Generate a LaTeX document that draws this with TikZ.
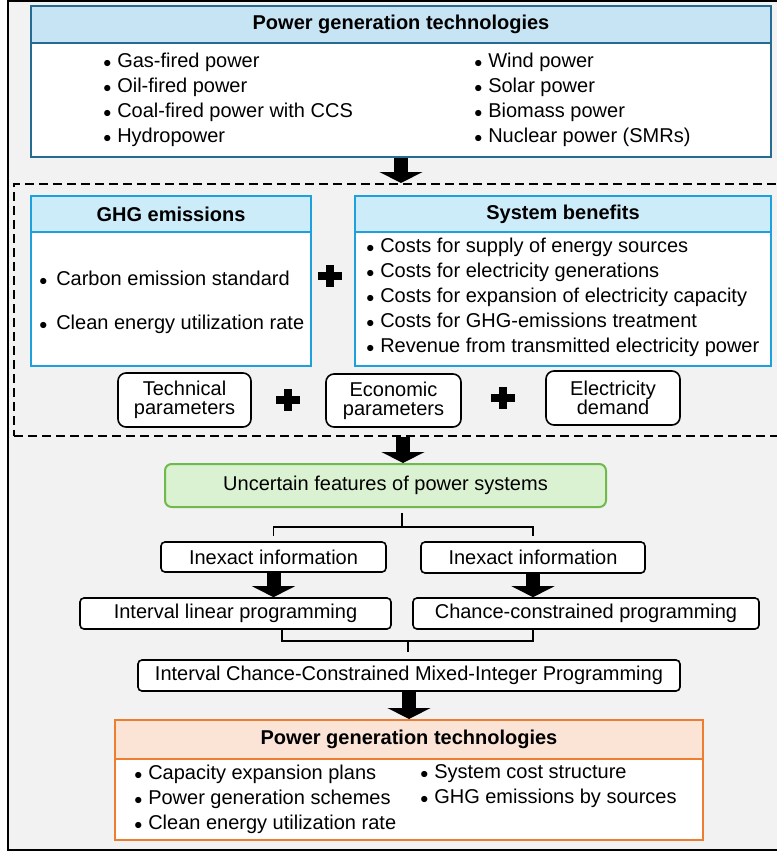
\documentclass[tikz,border=0pt]{standalone}
\usepackage{fontspec}
\setmainfont{Liberation Sans}
\usetikzlibrary{arrows.meta}
\definecolor{bgray}{RGB}{242,242,242}
\definecolor{tblue}{RGB}{38,108,146}
\definecolor{tfill}{RGB}{198,228,243}
\definecolor{gblue}{RGB}{30,160,222}
\definecolor{gfill}{RGB}{204,236,250}
\definecolor{ugreen}{RGB}{112,186,76}
\definecolor{ufill}{RGB}{218,241,210}
\definecolor{rorange}{RGB}{237,125,49}
\definecolor{rfill}{RGB}{251,227,214}
\newcommand\bl{\makebox[10.5pt][l]{\fontsize{12}{12}\selectfont$\bullet$}}
\newcommand\gbl{\makebox[12.75pt][l]{\fontsize{12}{12}\selectfont$\bullet$}}
\tikzset{plussign/.pic={\fill (-12,-4) rectangle (12,4); \fill (-4,-11) rectangle (4,11);}}

\begin{document}
\begin{tikzpicture}[x=0.75pt, y=-0.75pt, font=\fontsize{15}{18.75}\selectfont,
  thead/.style={draw=tblue, fill=tfill, line width=1.5pt, inner sep=0pt},
  tbody/.style={draw=tblue, fill=white, line width=1.5pt, inner sep=0pt},
  ghead/.style={draw=gblue, fill=gfill, line width=1.5pt, inner sep=0pt},
  gbody/.style={draw=gblue, fill=white, line width=1.5pt, inner sep=0pt},
  rhead/.style={draw=rorange, fill=rfill, line width=1.5pt, inner sep=0pt},
  rbody/.style={draw=rorange, fill=white, line width=1.5pt, inner sep=0pt},
  grpbox/.style={draw, line width=1.5pt, dash pattern=on 6.75pt off 3.75pt, inner sep=0pt},
  pbox/.style={draw, fill=white, line width=1.2pt, rounded corners=6pt, align=center, inner sep=0pt, font=\fontsize{15}{14.25}\selectfont},
  ibox/.style={draw, fill=white, line width=1.2pt, rounded corners=3pt, inner sep=0pt},
  ubox/.style={draw=ugreen, fill=ufill, line width=1.5pt, rounded corners=5pt, inner sep=0pt},
  lst/.style={align=left, inner sep=0pt},
  blk/.style={line width=10.5pt, -{Triangle[width=32pt, length=8.25pt]}},
  brk/.style={line width=1.1pt}]
\useasboundingbox (0,0) rectangle (777,853);
\draw[fill=bgray, line width=1.5pt] (8,1) rectangle (790,850);

\node[thead, minimum width=555pt, minimum height=27.75pt] (tHead) at (401,24.5) {\textbf{Power generation technologies}};
\node[tbody, minimum width=555pt, minimum height=85.5pt] (tBody) at (401,100) {};
\node[lst, anchor=west] (tL) at (103,99.5) {\bl Gas-fired power\\ \bl Oil-fired power\\ \bl Coal-fired power with CCS\\ \bl Hydropower};
\node[lst, anchor=west] (tR) at (474,99.5) {\bl Wind power\\ \bl Solar power\\ \bl Biomass power\\ \bl Nuclear power (SMRs)};

\node[grpbox, minimum width=574.5pt, minimum height=189pt] (grp) at (397,310) {};
\draw[blk] (tBody.south) -- (tBody.south |- grp.north);

\node[ghead, minimum width=210pt, minimum height=27pt] (gHead) at (171,214) {\textbf{GHG emissions}};
\node[gbody, minimum width=210pt, minimum height=100.5pt] (gBody) at (171,299) {};
\node[lst, anchor=west] (gL) at (39,302) {\gbl Carbon emission standard\\[14.25pt] \gbl Clean energy utilization rate};
\pic at (330,276) {plussign};
\node[ghead, minimum width=312pt, minimum height=27pt] (sHead) at (563,214) {\textbf{System benefits}};
\node[gbody, minimum width=312pt, minimum height=100.5pt] (sBody) at (563,299) {};
\node[lst, anchor=west] (sL) at (366,297) {\bl Costs for supply of energy sources\\ \bl Costs for electricity generations\\ \bl Costs for expansion of electricity capacity\\ \bl Costs for GHG-emissions treatment\\ \bl Revenue from transmitted electricity power};

\node[pbox, minimum width=99.75pt, minimum height=40.5pt] (tech) at (184.5,400) {Technical\\parameters};
\pic at (288,400) {plussign};
\node[pbox, minimum width=101.25pt, minimum height=39.75pt] (econ) at (393.5,400.5) {Economic\\parameters};
\pic at (503,398) {plussign};
\node[pbox, minimum width=100.5pt, minimum height=40.5pt] (elec) at (613,398) {Electricity\\demand};

\node[ubox, minimum width=330.75pt, minimum height=32.25pt] (unc) at (385.5,485.5) {Uncertain features of power systems};
\draw[blk] (grp.south -| 403,0) -- (unc.north -| 403,0);

\node[ibox, minimum width=168.75pt, minimum height=22.5pt] (inL) at (273.5,557) {Inexact information};
\node[ibox, minimum width=168pt, minimum height=23.25pt] (inR) at (533,557.5) {Inexact information};
\coordinate (b1) at (402,527);
\draw[brk] (b1) -- ++(0,-14);
\draw[brk] ([yshift=3.75pt]inL.north) |- (b1) -| ([yshift=3.75pt]inR.north);

\node[ibox, minimum width=233.25pt, minimum height=23.25pt] (ilp) at (235.5,613.5) {Interval linear programming};
\node[ibox, minimum width=259.5pt, minimum height=23.25pt] (ccp) at (586,613.5) {Chance-constrained programming};
\draw[blk] (inL.south) -- (inL.south |- ilp.north);
\draw[blk] (inR.south) -- (inR.south |- ccp.north);

\node[ibox, minimum width=406.5pt, minimum height=23.25pt] (icc) at (409,675.5) {Interval Chance-Constrained Mixed-Integer Programming};
\coordinate (b2) at (408,641);
\draw[brk] ([xshift=34.9pt]ilp.south) |- (b2) -| ([xshift=-39.75pt]ccp.south);
\draw[brk] (b2) -- ++(0,11);

\node[rhead, minimum width=441pt, minimum height=29.25pt] (rHead) at (409,739.5) {\textbf{Power generation technologies}};
\node[rbody, minimum width=441pt, minimum height=60.75pt] (rBody) at (409,799.5) {};
\draw[blk] (icc.south) -- (rHead.north);
\node[lst, anchor=west] (rL) at (134,799) {\bl Capacity expansion plans\\ \bl Power generation schemes\\ \bl Clean energy utilization rate};
\node[lst, anchor=west] (rR) at (420,786.5) {\bl System cost structure\\ \bl GHG emissions by sources};
\end{tikzpicture}
\end{document}
